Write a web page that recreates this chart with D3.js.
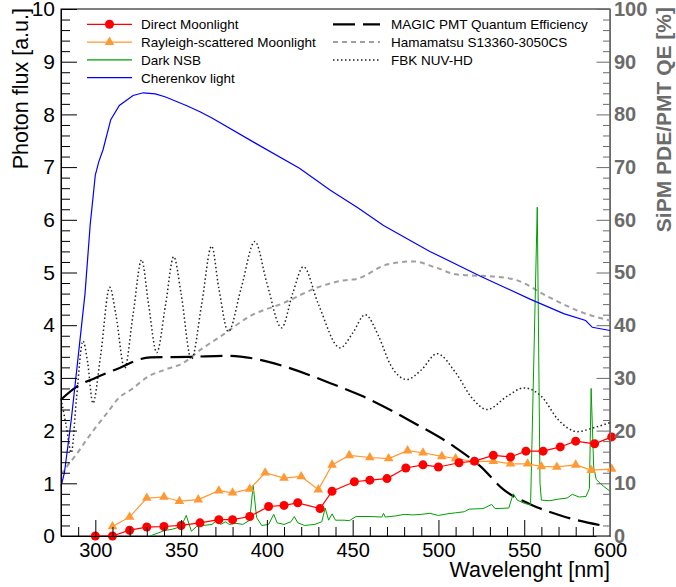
<!DOCTYPE html>
<html>
<head>
<meta charset="utf-8">
<script src="https://d3js.org/d3.v7.min.js"></script>
<style>
  body { margin: 0; background: #fff; }
  svg { display: block; font-family: "Liberation Sans", Arial, Helvetica, sans-serif; }
</style>
</head>
<body>
<div id="my_dataviz"></div>
<script>
// ---- data ----
// Cherenkov light, photon flux [a.u.]
const cherWl   = [280, 282, 286, 290, 294, 297, 300, 302, 304.5, 309, 314, 322, 328, 335, 341, 353, 361, 368, 393, 419, 437, 453, 468, 495, 524.5, 553.7, 573, 585.8, 589.7, 600]
const cherFlux = [0.94, 1.2, 2.21, 3.4, 4.6, 5.9, 6.85, 7.1, 7.33, 7.9, 8.17, 8.36, 8.41, 8.39, 8.33, 8.17, 8.05, 7.93, 7.46, 6.98, 6.56, 6.23, 5.89, 5.4, 4.93, 4.49, 4.22, 4.09, 3.96, 3.9]

// Direct moonlight
const moonWl   = [300, 310, 320, 330, 340, 350, 361, 372, 380, 390, 401, 410, 418, 431, 438, 451, 460, 470, 481, 491, 500, 512, 521, 532, 542, 551, 561, 571, 580, 591, 601]
const moonFlux = [0.0, 0.0, 0.11, 0.17, 0.18, 0.2, 0.25, 0.31, 0.31, 0.37, 0.56, 0.58, 0.63, 0.52, 0.85, 1.03, 1.06, 1.09, 1.29, 1.35, 1.31, 1.39, 1.42, 1.53, 1.5, 1.61, 1.61, 1.69, 1.8, 1.75, 1.88]

// Rayleigh-scattered moonlight
const rayWl   = [310, 320, 330, 340, 349, 360, 372, 380, 390, 399, 410, 420, 430, 438, 448, 460, 471, 482, 491, 502, 510, 521, 532, 542, 552, 560, 569, 580, 589, 601]
const rayFlux = [0.18, 0.36, 0.72, 0.74, 0.66, 0.69, 0.86, 0.82, 0.89, 1.2, 1.1, 1.13, 0.88, 1.35, 1.53, 1.49, 1.47, 1.62, 1.58, 1.51, 1.47, 1.41, 1.42, 1.37, 1.37, 1.32, 1.31, 1.35, 1.25, 1.27]

// Dark night sky background
const nsbWl   = [332, 336, 340, 345, 350, 353, 356, 359, 363, 368, 371, 373, 376, 378, 382, 386, 390, 392, 394, 397, 401, 404, 406, 410, 414, 416, 418, 422, 428, 432, 434, 436, 438, 440, 445, 448, 452, 460, 467, 468, 469, 475, 480, 485, 490, 495, 500, 505, 510, 515, 518, 526, 528, 531, 533, 541, 543.6, 546, 550, 553.7, 557.6, 559.2, 560, 565, 570, 575, 578, 582, 586, 588, 589, 590.5, 592, 596, 600]
const nsbFlux = [0, 0.05, 0.1, 0.13, 0.18, 0.39, 0.09, 0.18, 0.2, 0.22, 0.3, 0.22, 0.27, 0.22, 0.24, 0.22, 0.3, 0.96, 0.35, 0.2, 0.22, 0.41, 0.25, 0.22, 0.27, 0.37, 0.25, 0.2, 0.22, 0.27, 0.53, 0.3, 0.42, 0.3, 0.3, 0.29, 0.37, 0.37, 0.36, 0.43, 0.36, 0.38, 0.41, 0.4, 0.41, 0.43, 0.39, 0.42, 0.44, 0.46, 0.51, 0.52, 0.55, 0.6, 0.52, 0.53, 0.8, 0.68, 0.62, 0.59, 6.24, 1.0, 0.68, 0.67, 0.7, 0.72, 0.79, 0.74, 0.75, 0.9, 2.8, 1.3, 1.07, 0.95, 0.85]

// MAGIC PMT quantum efficiency [%]
const magicWl = [280, 289, 300, 312, 332, 355, 378, 395, 410, 437, 456, 485.5, 509, 524.5, 538, 553.7, 573, 598.5]
const magicQE = [25.9, 28.3, 30, 31.6, 33.9, 34.0, 34.2, 33.5, 32.2, 29, 26.5, 21.5, 17, 13.2, 8.8, 6.0, 3.7, 1.8]

// Hamamatsu S13360-3050CS PDE [%]
const hamaWl  = [280, 283, 289, 295, 300, 307, 314, 321, 331, 340, 351, 362, 374.5, 390, 409.6, 429, 444.6, 452.5, 470, 485.5, 498, 510.9, 534.2, 546, 563.4, 584.8, 600]
const hamaPDE = [11.7, 13, 15.5, 18.3, 20.5, 23.4, 26.3, 27.8, 30.3, 31.5, 32.8, 35.5, 38.2, 41.7, 44.2, 47.1, 48.5, 48.8, 51.5, 52.1, 51, 49.6, 49.2, 48.5, 45.5, 42.3, 40.9]

// FBK NUV-HD PDE [%]
const fbkWl  = [280, 283, 286, 289, 292.8, 295.5, 298.6, 303, 308.4, 312, 317.1, 322, 327, 331, 335.8, 341, 345.7, 350, 356, 362, 367.8, 372, 377.5, 385, 393, 400, 408.6, 415, 421.3, 430, 442.7, 450, 457.3, 465, 472, 481.6, 490, 499.2, 510, 520, 528.4, 540, 549.8, 560, 570, 581, 590, 600]
const fbkPDE = [26, 21, 15.8, 26, 37, 33, 25.2, 34, 47.2, 42, 31.8, 42, 52.4, 44, 34.8, 44, 53, 46, 33.5, 44, 55, 47, 38.8, 47, 55.9, 48, 39.5, 46, 51.1, 44, 35.7, 38.5, 42, 38, 32.5, 29.7, 31.5, 34.6, 31, 26, 24, 26.5, 28.1, 26.5, 22, 19.8, 20.5, 21.5]

// axis ticks
const xMajor = [300, 350, 400, 450, 500, 550, 600]
const yMajor = [0, 1, 2, 3, 4, 5, 6, 7, 8, 9, 10]
const yRMajor = [0, 10, 20, 30, 40, 50, 60, 70, 80, 90, 100]

// set the dimensions and margins of the graph
const margin = {top: 9, right: 66, bottom: 51, left: 61},
      width = 676 - margin.left - margin.right,
      height = 587 - margin.top - margin.bottom;

const root = d3.select("#my_dataviz")
  .append("svg")
  .attr("width", width + margin.left + margin.right)
  .attr("height", height + margin.top + margin.bottom)

const svg = root.append("g")
  .attr("transform", `translate(${margin.left}, ${margin.top})`);

const x = d3.scaleLinear().domain([280, 600]).range([0, width])
const y = d3.scaleLinear().domain([0, 10]).range([height, 0])
const yR = d3.scaleLinear().domain([0, 100]).range([height, 0])

const grey = "#6b6b6b"

// frame
svg.append("rect")
  .attr("width", width).attr("height", height)
  .attr("fill", "none").attr("stroke", "black").attr("stroke-width", 1)

// helper: path from two arrays
function path(xs, ys, scale, curve) {
  return d3.line().curve(curve || d3.curveLinear)(xs.map((d, i) => [x(d), scale(ys[i])]))
}

// QE / PDE curves (right axis)
svg.append("path")
  .attr("d", path(hamaWl, hamaPDE, yR, d3.curveMonotoneX))
  .style("fill", "none").style("stroke", "#a0a0a0").style("stroke-width", 2)
  .style("stroke-dasharray", "5,4")

svg.append("path")
  .attr("d", path(fbkWl, fbkPDE, yR, d3.curveMonotoneX))
  .style("fill", "none").style("stroke", "#222").style("stroke-width", 1.5)
  .style("stroke-dasharray", "1.5,2.5")

svg.append("path")
  .attr("d", path(magicWl, magicQE, yR, d3.curveMonotoneX))
  .style("fill", "none").style("stroke", "black").style("stroke-width", 2.2)
  .style("stroke-dasharray", "22,8")

// fluxes (left axis)
svg.append("path")
  .attr("d", path(nsbWl, nsbFlux, y))
  .style("fill", "none").style("stroke", "#00a000").style("stroke-width", 1)

svg.append("path")
  .attr("d", path(rayWl, rayFlux, y))
  .style("fill", "none").style("stroke", "#ff9933").style("stroke-width", 1.2)

const tri = d3.symbol().type(d3.symbolTriangle).size(40)
svg.selectAll("myTri")
  .data(rayWl).join("path")
  .attr("d", tri)
  .attr("transform", (d, i) => `translate(${x(d)}, ${y(rayFlux[i])})`)
  .style("fill", "#ff9933")

svg.append("path")
  .attr("d", path(moonWl, moonFlux, y))
  .style("fill", "none").style("stroke", "#ff0000").style("stroke-width", 1.2)

svg.selectAll("myDots")
  .data(moonWl).join("circle")
  .attr("cx", d => x(d))
  .attr("cy", (d, i) => y(moonFlux[i]))
  .attr("r", 4.5)
  .style("fill", "#ff0000")

svg.append("path")
  .attr("d", path(cherWl, cherFlux, y))
  .style("fill", "none").style("stroke", "#0000ff").style("stroke-width", 1.2)

// ---- axes (ROOT style, ticks pointing inwards) ----
const minorX = d3.range(280, 601, 10).filter(d => d % 50 != 0)
const minorY = d3.range(0, 10.01, 0.2).filter(d => Math.abs(d - Math.round(d)) > 0.01)
const minorYR = d3.range(0, 100.1, 2).filter(d => d % 10 != 0)

function styleAxis(g, color, size, weight) {
  g.selectAll("line").attr("stroke", color)
  g.select(".domain").attr("stroke", color)
  g.selectAll("text")
    .attr("fill", color)
    .style("font-size", size + "px")
    .style("font-weight", weight)
    .style("font-family", '"Liberation Sans", Arial, sans-serif')
}

// bottom
svg.append("g")
  .attr("transform", `translate(0, ${height})`)
  .call(d3.axisBottom(x).tickValues(xMajor).tickSize(-16).tickSizeOuter(0).tickPadding(7))
  .call(g => styleAxis(g, "black", 20, "normal"))
svg.append("g")
  .attr("transform", `translate(0, ${height})`)
  .call(d3.axisBottom(x).tickValues(minorX).tickSize(-9).tickFormat(""))
  .call(g => g.select(".domain").remove())

// left
svg.append("g")
  .call(d3.axisLeft(y).tickValues(yMajor).tickSize(-16).tickSizeOuter(0).tickPadding(6))
  .call(g => styleAxis(g, "black", 21, "normal"))
svg.append("g")
  .call(d3.axisLeft(y).tickValues(minorY).tickSize(-9).tickFormat(""))
  .call(g => g.select(".domain").remove())

// right (grey)
svg.append("g")
  .attr("transform", `translate(${width}, 0)`)
  .call(d3.axisRight(yR).tickValues(yRMajor).tickSize(-13.5).tickSizeOuter(0).tickPadding(4))
  .call(g => styleAxis(g, grey, 20, "bold"))
svg.append("g")
  .attr("transform", `translate(${width}, 0)`)
  .call(d3.axisRight(yR).tickValues(minorYR).tickSize(-7).tickFormat(""))
  .call(g => g.select(".domain").remove())
  .call(g => g.selectAll("line").attr("stroke", grey))

// axis titles
root.append("text")
  .attr("transform", "translate(28, 8) rotate(-90)")
  .style("text-anchor", "end")
  .style("font-size", "21.5px")
  .text("Photon flux [a.u.]")

root.append("text")
  .attr("transform", "translate(671, 7) rotate(-90)")
  .style("text-anchor", "end")
  .style("font-size", "21px")
  .style("font-weight", "bold")
  .style("fill", grey)
  .text("SiPM PDE/PMT QE [%]")

root.append("text")
  .attr("x", 610).attr("y", 577)
  .style("text-anchor", "end")
  .style("font-size", "21.5px")
  .text("Wavelenght [nm]")

// ---- legend ----
const legLeft = [
  {name: "Direct Moonlight", color: "#ff0000", marker: "circle"},
  {name: "Rayleigh-scattered Moonlight", color: "#ff9933", marker: "triangle"},
  {name: "Dark NSB", color: "#00a000"},
  {name: "Cherenkov light", color: "#0000ff"}
]
const legRight = [
  {name: "MAGIC PMT Quantum Efficiency", color: "black", dash: "22,8", w: 2.2},
  {name: "Hamamatsu S13360-3050CS", color: "#a0a0a0", dash: "5,4", w: 2},
  {name: "FBK NUV-HD", color: "#222", dash: "1.5,2.5", w: 1.5}
]
const rowY = d => 24.3 + d * 17.8

const lg = root.selectAll("legL").data(legLeft).join("g")
  .attr("transform", (d, i) => `translate(0, ${rowY(i)})`)
lg.append("line").attr("x1", 87).attr("x2", 132)
  .attr("stroke", d => d.color).attr("stroke-width", 1.2)
lg.filter(d => d.marker == "circle").append("circle")
  .attr("cx", 109.5).attr("r", 4.5).style("fill", d => d.color)
lg.filter(d => d.marker == "triangle").append("path")
  .attr("d", tri).attr("transform", "translate(109.5, 0)").style("fill", d => d.color)
lg.append("text").attr("x", 141).attr("y", 4.8)
  .style("font-size", "13.5px").text(d => d.name)

const lr = root.selectAll("legR").data(legRight).join("g")
  .attr("transform", (d, i) => `translate(0, ${rowY(i)})`)
lr.append("line").attr("x1", 333).attr("x2", 380)
  .attr("stroke", d => d.color).attr("stroke-width", d => d.w)
  .attr("stroke-dasharray", d => d.dash)
lr.append("text").attr("x", 391).attr("y", 4.8)
  .style("font-size", "13.5px").text(d => d.name)
</script>
</body>
</html>
